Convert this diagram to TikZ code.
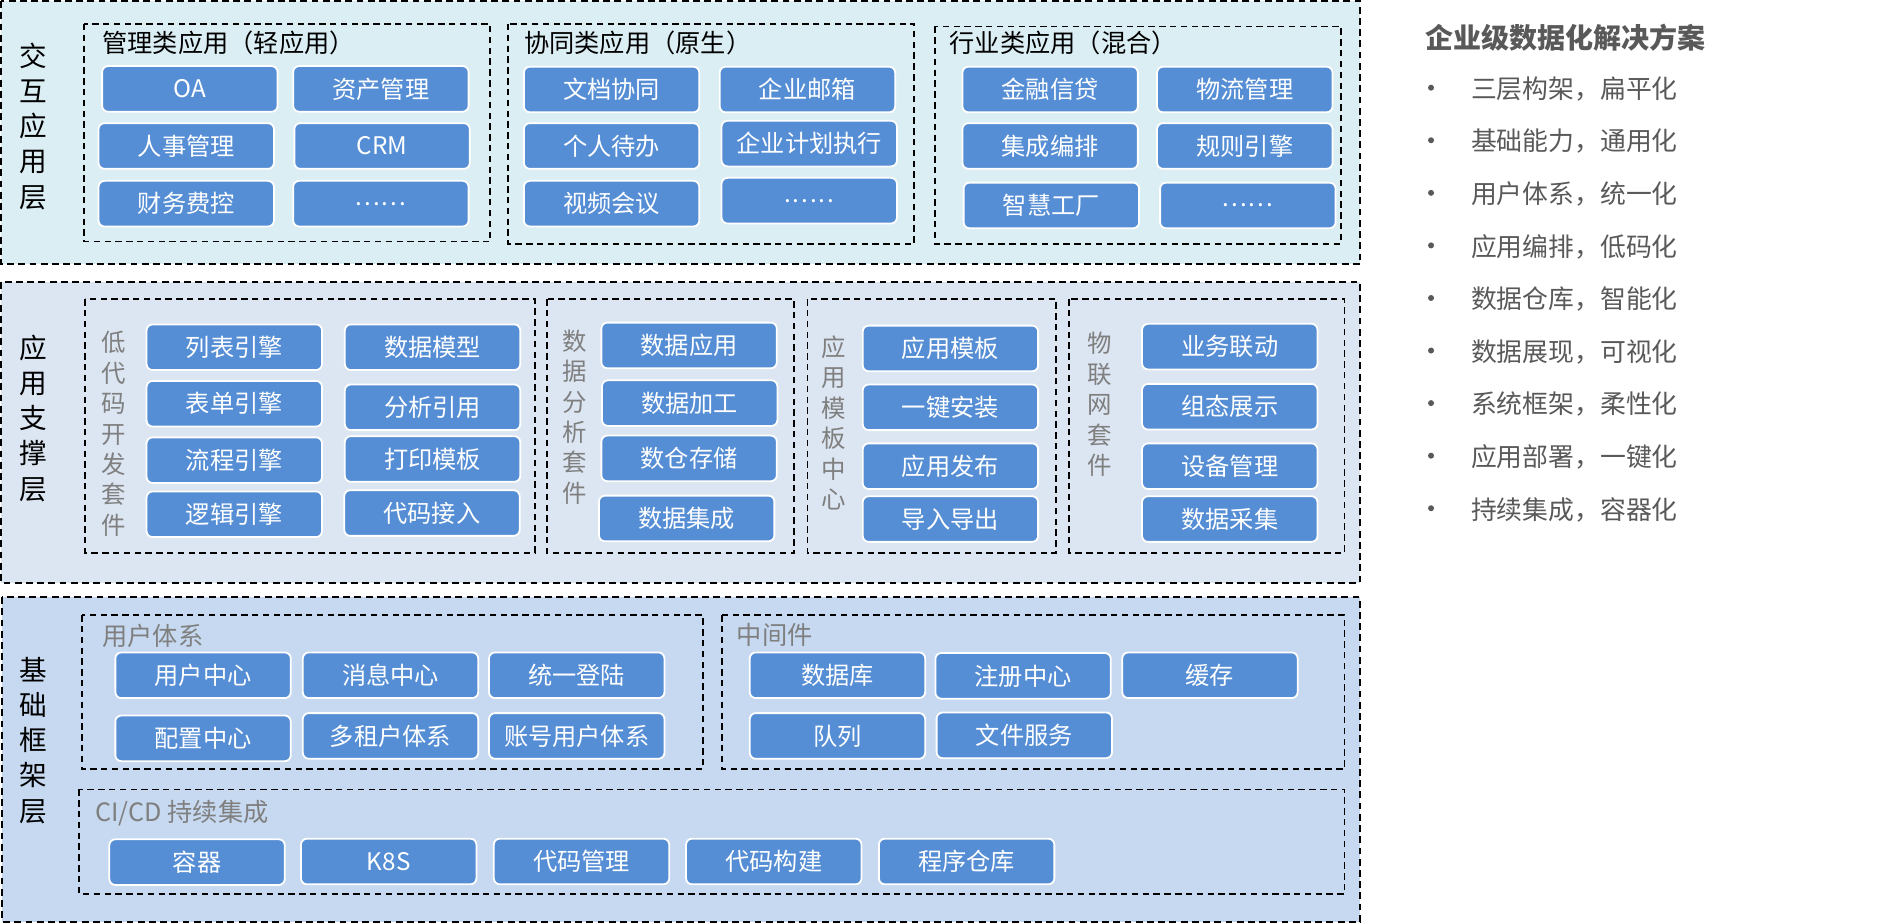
\documentclass[tikz,border=0pt]{standalone}
\usepackage{fontspec}
\setmainfont{Noto Sans CJK SC}
\definecolor{lay1}{RGB}{219,238,244}
\definecolor{lay2}{RGB}{220,230,242}
\definecolor{lay3}{RGB}{198,217,240}
\definecolor{btnblue}{RGB}{85,142,213}
\definecolor{gtext}{RGB}{127,127,127}
\definecolor{dtext}{RGB}{89,89,89}
\tikzset{
  layerbox/.style={draw=black, line width=1pt, dash pattern=on 3.4pt off 2.2pt},
  grpbox/.style={draw=black, line width=0.9pt, dash pattern=on 3.2pt off 2.2pt},
  btn/.style={draw=white, line width=0.9pt, fill=btnblue, rounded corners=3pt,
    minimum width=87.6pt, minimum height=22.8pt, inner sep=0pt, text=white,
    font=\fontsize{12.1}{13}\selectfont},
  laylabel/.style={align=center, inner sep=0pt, text=black, font=\fontsize{13.8}{17.6}\selectfont},
  vlabel/.style={align=center, inner sep=0pt, text=gtext, font=\fontsize{12.2}{15.2}\selectfont},
  grptitle/.style={anchor=west, inner sep=0pt, font=\fontsize{12.6}{14}\selectfont},
  item/.style={anchor=west, inner sep=0pt, text=dtext, font=\fontsize{12.9}{15}\selectfont},
  bulletdot/.style={circle, fill=dtext, inner sep=0pt, minimum size=3pt},
}
\begin{document}
\begin{tikzpicture}[x=0.6pt,y=-0.6pt]
\useasboundingbox (0,0) rectangle (1568,768);
% ---------- layers ----------
\draw[layerbox, fill=lay1] (1,1) rectangle (1132,220);
\draw[layerbox, fill=lay2] (1,235) rectangle (1132,485);
\draw[layerbox, fill=lay3] (2,497) rectangle (1132,767);
\node[laylabel] (l1) at (28,105) {交\\互\\应\\用\\层};
\node[laylabel] (l2) at (28,348) {应\\用\\支\\撑\\层};
\node[laylabel] (l3) at (28,616) {基\\础\\框\\架\\层};
% ---------- layer 1 ----------
\draw[grpbox] (70,20) rectangle (408,201);
\node[grptitle, text=black] (ga) at (85,36) {管理类应用（轻应用）};
\node[btn] (oa) at (158,74) {OA};
\node[btn] (zc) at (317,74) {资产管理};
\node[btn] (rs) at (155,121.5) {人事管理};
\node[btn] (crm) at (318,121.5) {CRM};
\node[btn] (cw) at (155,169.5) {财务费控};
\node[btn] (m1) at (317,169.5) {.\kern1pt.\kern1pt.\kern1pt.\kern1pt.\kern1pt.};

\draw[grpbox] (423,20) rectangle (761,203);
\node[grptitle, text=black] (gb) at (436,36) {协同类应用（原生）};
\node[btn] (wd) at (509,74.5) {文档协同};
\node[btn] (yx) at (672,74.5) {企业邮箱};
\node[btn] (gr) at (509,121.5) {个人待办};
\node[btn] (jh) at (673.5,119.5) {企业计划执行};
\node[btn] (sp) at (509,169.5) {视频会议};
\node[btn] (m2) at (673.5,167) {.\kern1pt.\kern1pt.\kern1pt.\kern1pt.\kern1pt.};

\draw[grpbox] (778,22) rectangle (1116,203);
\node[grptitle, text=black] (gc) at (790,36) {行业类应用（混合）};
\node[btn] (jr) at (874,74.5) {金融信贷};
\node[btn] (wl) at (1036,74.5) {物流管理};
\node[btn] (jc) at (874,121.5) {集成编排};
\node[btn] (gz) at (1036,121.5) {规则引擎};
\node[btn] (zh) at (875,171) {智慧工厂};
\node[btn] (m3) at (1038.5,171) {.\kern1pt.\kern1pt.\kern1pt.\kern1pt.\kern1pt.};
% ---------- layer 2 ----------
\draw[grpbox] (71,249) rectangle (445,460);
\node[vlabel] (v1) at (95,361) {低\\代\\码\\开\\发\\套\\件};
\node[btn] (lb) at (195,289) {列表引擎};
\node[btn] (sj) at (360,289) {数据模型};
\node[btn] (bd) at (195,336) {表单引擎};
\node[btn] (fx) at (360,339) {分析引用};
\node[btn] (lc) at (195,383) {流程引擎};
\node[btn] (dy) at (360,382) {打印模板};
\node[btn] (lj) at (195,428) {逻辑引擎};
\node[btn] (dm) at (359.5,427) {代码接入};

\draw[grpbox] (455,249) rectangle (661,460);
\node[vlabel] (v2) at (478,347) {数\\据\\分\\析\\套\\件};
\node[btn] (sy) at (573.5,287.5) {数据应用};
\node[btn] (sg) at (574,335.5) {数据加工};
\node[btn] (sc) at (573.5,381.5) {数仓存储};
\node[btn] (sjc) at (571.5,431.5) {数据集成};

\draw[grpbox] (672,249) rectangle (879,460);
\node[vlabel] (v3) at (694,352) {应\\用\\模\\板\\中\\心};
\node[btn] (mb) at (791,290) {应用模板};
\node[btn] (az) at (791,339) {一键安装};
\node[btn] (fb) at (791,388) {应用发布};
\node[btn] (dr) at (791,432) {导入导出};

\draw[grpbox] (890,249) rectangle (1119,460);
\node[vlabel] (v4) at (915,336.5) {物\\联\\网\\套\\件};
\node[btn] (ld) at (1023.5,288.5) {业务联动};
\node[btn] (zt) at (1023.5,338.5) {组态展示};
\node[btn] (sb) at (1023.5,388) {设备管理};
\node[btn] (cj) at (1023.5,432) {数据采集};
% ---------- layer 3 ----------
\draw[grpbox] (68,512) rectangle (585,640);
\node[grptitle, text=gtext] (gd) at (85,529) {用户体系};
\node[btn] (yh) at (169,562) {用户中心};
\node[btn] (xx) at (325,562) {消息中心};
\node[btn] (dl) at (480,562) {统一登陆};
\node[btn] (pz) at (169,614.5) {配置中心};
\node[btn] (dz) at (325,612.5) {多租户体系};
\node[btn] (zh2) at (480,612.5) {账号用户体系};

\draw[grpbox] (601,512) rectangle (1119,640);
\node[grptitle, text=gtext] (ge) at (613,528) {中间件};
\node[btn] (sjk) at (697,562) {数据库};
\node[btn] (zc2) at (851.5,562.5) {注册中心};
\node[btn] (hc) at (1007,562) {缓存};
\node[btn] (dlie) at (697,612.5) {队列};
\node[btn] (wj) at (852.5,612) {文件服务};

\draw[grpbox] (66,657) rectangle (1119,744);
\node[grptitle, text=gtext] (gf) at (79,677) {CI/CD 持续集成};
\node[btn] (rq) at (164,717.5) {容器};
\node[btn] (k8s) at (323.5,717) {K8S};
\node[btn] (dmgl) at (484,717) {代码管理};
\node[btn] (dmgj) at (644,717) {代码构建};
\node[btn] (cx) at (804.5,717) {程序仓库};
% ---------- right panel ----------
\node[anchor=west, inner sep=0pt, text=dtext, font=\fontsize{14}{16}\selectfont\bfseries] (title) at (1186,31) {企业级数据化解决方案};
\foreach \t [count=\i from 0] in {三层构架，扁平化, 基础能力，通用化, 用户体系，统一化, 应用编排，低码化, 数据仓库，智能化, 数据展现，可视化, 系统框架，柔性化, 应用部署，一键化, 持续集成，容器化} {
  \node[bulletdot] (b\i) at (1191,{73+43.75*\i}) {};
  \node[item] (t\i) at (1224,{74+43.75*\i}) {\t};
}
\end{tikzpicture}
\end{document}
